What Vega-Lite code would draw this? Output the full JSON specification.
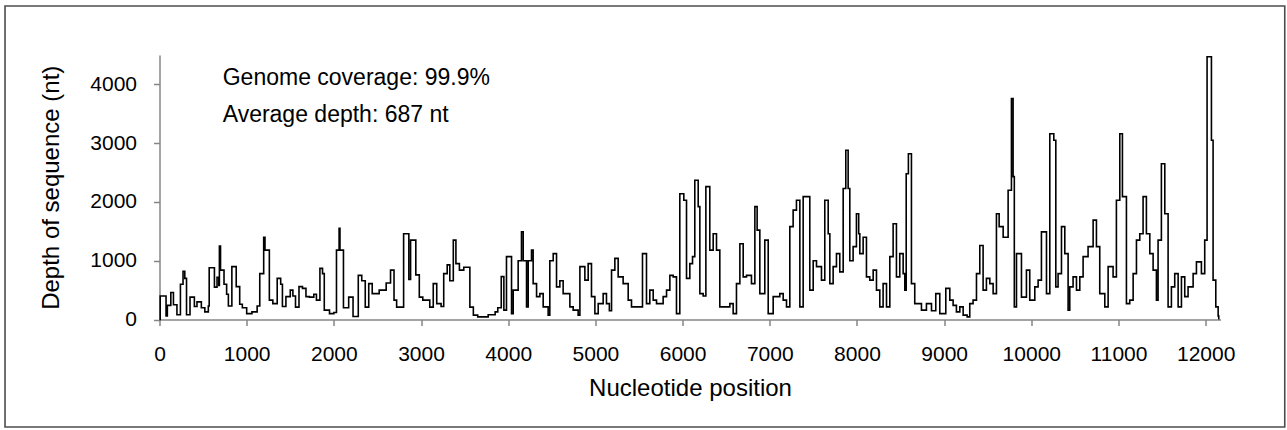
{
  "$schema": "https://vega.github.io/schema/vega-lite/v6.json",
  "width": 1061,
  "height": 264.5,
  "autosize": {"type": "none"},
  "padding": {"left": 159.5, "top": 55, "right": 66.5, "bottom": 110.5},
  "background": "white",
  "config": {"view": {"stroke": null}, "font": "Liberation Sans"},
  "layer": [
    {
      "data": {"values": [{}]},
      "mark": {"type": "rect", "filled": false, "stroke": "#4d4d4d", "strokeWidth": 1.6, "clip": false},
      "encoding": {
        "x": {"datum": -1772, "type": "quantitative", "scale": {"domain": [0, 12170], "nice": false, "zero": false}},
        "x2": {"datum": 12907},
        "y": {"datum": 5333, "type": "quantitative", "scale": {"domain": [0, 4500], "nice": false, "zero": false}},
        "y2": {"datum": -1829}
      }
    },
    {
      "data": {"values": [
        {"pos":0,"depth":0},{"pos":8,"depth":400},{"pos":75,"depth":60},{"pos":90,"depth":240},{"pos":130,"depth":460},{"pos":160,"depth":250},{"pos":200,"depth":80},{"pos":240,"depth":600},{"pos":270,"depth":820},{"pos":290,"depth":700},{"pos":310,"depth":80},{"pos":350,"depth":380},{"pos":400,"depth":220},{"pos":430,"depth":300},{"pos":480,"depth":200},{"pos":520,"depth":130},{"pos":560,"depth":230},{"pos":570,"depth":880},{"pos":630,"depth":550},{"pos":660,"depth":720},{"pos":680,"depth":580},{"pos":687,"depth":1250},{"pos":700,"depth":840},{"pos":740,"depth":600},{"pos":770,"depth":430},{"pos":790,"depth":230},{"pos":830,"depth":900},{"pos":880,"depth":560},{"pos":920,"depth":260},{"pos":950,"depth":200},{"pos":1000,"depth":100},{"pos":1060,"depth":130},{"pos":1120,"depth":230},{"pos":1150,"depth":780},{"pos":1195,"depth":1400},{"pos":1210,"depth":1180},{"pos":1260,"depth":330},{"pos":1300,"depth":270},{"pos":1350,"depth":700},{"pos":1390,"depth":600},{"pos":1410,"depth":220},{"pos":1450,"depth":390},{"pos":1500,"depth":500},{"pos":1530,"depth":400},{"pos":1560,"depth":210},{"pos":1600,"depth":560},{"pos":1640,"depth":530},{"pos":1680,"depth":390},{"pos":1720,"depth":380},{"pos":1770,"depth":430},{"pos":1800,"depth":330},{"pos":1840,"depth":870},{"pos":1870,"depth":780},{"pos":1890,"depth":160},{"pos":1950,"depth":100},{"pos":2000,"depth":120},{"pos":2030,"depth":1180},{"pos":2060,"depth":1550},{"pos":2070,"depth":1180},{"pos":2110,"depth":200},{"pos":2170,"depth":380},{"pos":2220,"depth":50},{"pos":2280,"depth":750},{"pos":2320,"depth":660},{"pos":2360,"depth":210},{"pos":2400,"depth":610},{"pos":2440,"depth":440},{"pos":2520,"depth":500},{"pos":2600,"depth":620},{"pos":2650,"depth":840},{"pos":2690,"depth":330},{"pos":2720,"depth":210},{"pos":2800,"depth":1460},{"pos":2860,"depth":680},{"pos":2880,"depth":1350},{"pos":2940,"depth":760},{"pos":2980,"depth":380},{"pos":3020,"depth":330},{"pos":3100,"depth":210},{"pos":3140,"depth":610},{"pos":3180,"depth":270},{"pos":3230,"depth":220},{"pos":3260,"depth":780},{"pos":3300,"depth":930},{"pos":3330,"depth":660},{"pos":3370,"depth":1350},{"pos":3400,"depth":950},{"pos":3440,"depth":840},{"pos":3490,"depth":890},{"pos":3560,"depth":210},{"pos":3600,"depth":75},{"pos":3650,"depth":45},{"pos":3770,"depth":80},{"pos":3850,"depth":130},{"pos":3880,"depth":200},{"pos":3920,"depth":730},{"pos":3950,"depth":160},{"pos":3980,"depth":1070},{"pos":4038,"depth":100},{"pos":4057,"depth":500},{"pos":4114,"depth":1000},{"pos":4152,"depth":1490},{"pos":4172,"depth":1000},{"pos":4210,"depth":215},{"pos":4229,"depth":1000},{"pos":4267,"depth":1180},{"pos":4286,"depth":610},{"pos":4325,"depth":390},{"pos":4363,"depth":440},{"pos":4401,"depth":215},{"pos":4458,"depth":75},{"pos":4477,"depth":1000},{"pos":4516,"depth":1120},{"pos":4554,"depth":555},{"pos":4592,"depth":660},{"pos":4630,"depth":440},{"pos":4707,"depth":215},{"pos":4745,"depth":160},{"pos":4802,"depth":75},{"pos":4822,"depth":900},{"pos":4879,"depth":670},{"pos":4917,"depth":950},{"pos":4955,"depth":390},{"pos":4994,"depth":100},{"pos":5032,"depth":270},{"pos":5089,"depth":440},{"pos":5127,"depth":270},{"pos":5160,"depth":150},{"pos":5185,"depth":840},{"pos":5223,"depth":1040},{"pos":5261,"depth":725},{"pos":5318,"depth":610},{"pos":5376,"depth":330},{"pos":5414,"depth":215},{"pos":5540,"depth":1120},{"pos":5586,"depth":270},{"pos":5624,"depth":500},{"pos":5663,"depth":330},{"pos":5701,"depth":270},{"pos":5777,"depth":390},{"pos":5816,"depth":500},{"pos":5854,"depth":750},{"pos":5892,"depth":725},{"pos":5930,"depth":100},{"pos":5968,"depth":2140},{"pos":6014,"depth":2030},{"pos":6045,"depth":700},{"pos":6083,"depth":950},{"pos":6114,"depth":1070},{"pos":6140,"depth":2370},{"pos":6179,"depth":1920},{"pos":6198,"depth":440},{"pos":6236,"depth":400},{"pos":6267,"depth":2260},{"pos":6312,"depth":1180},{"pos":6351,"depth":1460},{"pos":6389,"depth":1180},{"pos":6427,"depth":215},{"pos":6542,"depth":270},{"pos":6580,"depth":100},{"pos":6618,"depth":610},{"pos":6657,"depth":1290},{"pos":6695,"depth":725},{"pos":6733,"depth":750},{"pos":6790,"depth":610},{"pos":6829,"depth":1920},{"pos":6855,"depth":1520},{"pos":6886,"depth":440},{"pos":6943,"depth":1350},{"pos":6982,"depth":100},{"pos":7039,"depth":390},{"pos":7115,"depth":440},{"pos":7154,"depth":330},{"pos":7192,"depth":215},{"pos":7230,"depth":1580},{"pos":7268,"depth":1860},{"pos":7306,"depth":2030},{"pos":7345,"depth":215},{"pos":7383,"depth":2090},{"pos":7459,"depth":500},{"pos":7498,"depth":1000},{"pos":7536,"depth":900},{"pos":7593,"depth":670},{"pos":7631,"depth":2030},{"pos":7670,"depth":1460},{"pos":7689,"depth":610},{"pos":7727,"depth":900},{"pos":7765,"depth":1120},{"pos":7803,"depth":810},{"pos":7842,"depth":2230},{"pos":7872,"depth":2880},{"pos":7899,"depth":2230},{"pos":7918,"depth":1000},{"pos":7956,"depth":1240},{"pos":7994,"depth":1800},{"pos":8020,"depth":1460},{"pos":8033,"depth":1120},{"pos":8071,"depth":1400},{"pos":8109,"depth":725},{"pos":8147,"depth":670},{"pos":8186,"depth":840},{"pos":8224,"depth":500},{"pos":8262,"depth":215},{"pos":8300,"depth":610},{"pos":8339,"depth":215},{"pos":8377,"depth":1070},{"pos":8415,"depth":1630},{"pos":8453,"depth":725},{"pos":8491,"depth":1120},{"pos":8530,"depth":780},{"pos":8549,"depth":500},{"pos":8565,"depth":2480},{"pos":8590,"depth":2820},{"pos":8625,"depth":610},{"pos":8663,"depth":270},{"pos":8740,"depth":160},{"pos":8797,"depth":270},{"pos":8855,"depth":150},{"pos":8904,"depth":440},{"pos":8950,"depth":100},{"pos":9019,"depth":530},{"pos":9065,"depth":330},{"pos":9103,"depth":240},{"pos":9141,"depth":130},{"pos":9180,"depth":215},{"pos":9218,"depth":75},{"pos":9264,"depth":45},{"pos":9294,"depth":270},{"pos":9332,"depth":330},{"pos":9371,"depth":780},{"pos":9409,"depth":1260},{"pos":9447,"depth":500},{"pos":9485,"depth":700},{"pos":9524,"depth":610},{"pos":9562,"depth":440},{"pos":9600,"depth":1800},{"pos":9631,"depth":1580},{"pos":9677,"depth":1400},{"pos":9734,"depth":2200},{"pos":9772,"depth":3760},{"pos":9791,"depth":2430},{"pos":9805,"depth":215},{"pos":9830,"depth":1120},{"pos":9887,"depth":380},{"pos":9944,"depth":840},{"pos":9982,"depth":330},{"pos":10040,"depth":555},{"pos":10078,"depth":670},{"pos":10116,"depth":1490},{"pos":10174,"depth":440},{"pos":10212,"depth":3160},{"pos":10258,"depth":3050},{"pos":10281,"depth":555},{"pos":10307,"depth":780},{"pos":10346,"depth":1580},{"pos":10384,"depth":1120},{"pos":10422,"depth":160},{"pos":10441,"depth":555},{"pos":10479,"depth":725},{"pos":10518,"depth":500},{"pos":10556,"depth":725},{"pos":10594,"depth":1070},{"pos":10651,"depth":1240},{"pos":10709,"depth":1690},{"pos":10747,"depth":1240},{"pos":10785,"depth":440},{"pos":10843,"depth":215},{"pos":10881,"depth":900},{"pos":10938,"depth":725},{"pos":10976,"depth":2030},{"pos":11015,"depth":3160},{"pos":11045,"depth":2090},{"pos":11091,"depth":270},{"pos":11129,"depth":330},{"pos":11168,"depth":780},{"pos":11206,"depth":1350},{"pos":11244,"depth":1460},{"pos":11282,"depth":2090},{"pos":11320,"depth":1460},{"pos":11359,"depth":1120},{"pos":11397,"depth":840},{"pos":11435,"depth":330},{"pos":11454,"depth":1350},{"pos":11492,"depth":2650},{"pos":11531,"depth":1800},{"pos":11569,"depth":215},{"pos":11607,"depth":555},{"pos":11645,"depth":780},{"pos":11684,"depth":215},{"pos":11722,"depth":725},{"pos":11760,"depth":390},{"pos":11798,"depth":555},{"pos":11856,"depth":780},{"pos":11894,"depth":980},{"pos":11951,"depth":780},{"pos":11989,"depth":1350},{"pos":12016,"depth":4470},{"pos":12066,"depth":3050},{"pos":12085,"depth":670},{"pos":12116,"depth":215},{"pos":12143,"depth":60},{"pos":12150,"depth":0}
      ]},
      "mark": {"type": "line", "interpolate": "step-after", "color": "black", "strokeWidth": 1.6},
      "encoding": {
        "x": {
          "field": "pos", "type": "quantitative",
          "scale": {"domain": [0, 12170], "nice": false, "zero": false},
          "axis": {
            "values": [0,1000,2000,3000,4000,5000,6000,7000,8000,9000,10000,11000,12000],
            "format": "d", "grid": false, "labelFlush": false, "labelOverlap": false,
            "title": "Nucleotide position",
            "labelFontSize": 21, "labelColor": "black", "labelPadding": 18,
            "titleFontSize": 24, "titleFontWeight": "normal", "titleColor": "black", "titlePadding": 12,
            "domainColor": "#868686", "domainWidth": 1.5, "tickColor": "#868686", "tickWidth": 1.5, "tickSize": 6
          }
        },
        "y": {
          "field": "depth", "type": "quantitative",
          "scale": {"domain": [0, 4500], "nice": false, "zero": false},
          "axis": {
            "values": [0,1000,2000,3000,4000],
            "format": "d", "grid": false, "labelFlush": false, "labelOverlap": false,
            "title": "Depth of sequence (nt)",
            "labelFontSize": 21, "labelColor": "black", "labelPadding": 17,
            "titleFontSize": 24, "titleFontWeight": "normal", "titleColor": "black", "titlePadding": 26,
            "domainColor": "#868686", "domainWidth": 1.5, "tickColor": "#868686", "tickWidth": 1.5, "tickSize": 6
          }
        }
      }
    },
    {
      "data": {"values": [{"label": ["Genome coverage: 99.9%", "Average depth: 687 nt"]}]},
      "mark": {"type": "text", "align": "left", "baseline": "alphabetic", "fontSize": 23, "lineHeight": 37, "color": "black"},
      "encoding": {
        "x": {"datum": 725, "type": "quantitative", "scale": {"domain": [0, 12170], "nice": false, "zero": false}},
        "y": {"datum": 3989, "type": "quantitative", "scale": {"domain": [0, 4500], "nice": false, "zero": false}},
        "text": {"field": "label"}
      }
    }
  ]
}
